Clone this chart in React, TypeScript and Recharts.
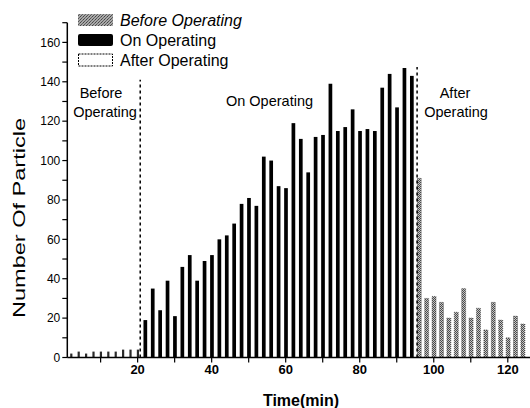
import React from 'react';
import { BarChart, Bar, XAxis, YAxis, ReferenceLine } from 'recharts';

// ---- data ----
const beforeTime = [2, 4, 6, 8, 10, 12, 14, 16, 18, 20];
const beforeCount = [2, 3, 2, 3, 3, 3, 3, 4, 4, 4];

const onTime = [22, 24, 26, 28, 30, 32, 34, 36, 38, 40, 42, 44, 46, 48, 50, 52, 54, 56, 58, 60, 62, 64, 66, 68, 70, 72, 74, 76, 78, 80, 82, 84, 86, 88, 90, 92, 94];
const onCount = [19, 35, 24, 39, 21, 46, 52, 39, 49, 52, 60, 62, 68, 78, 81, 77, 102, 100, 87, 86, 119, 111, 94, 112, 113, 139, 115, 117, 126, 115, 116, 115, 137, 144, 127, 147, 143];

const afterTime = [96, 98, 100, 102, 104, 106, 108, 110, 112, 114, 116, 118, 120, 122, 124];
const afterCount = [91, 30, 31, 28, 20, 23, 35, 20, 25, 14, 28, 19, 10, 21, 17];

const xTicks = [10, 20, 30, 40, 50, 60, 70, 80, 90, 100, 110, 120];
const yTicks = [0, 10, 20, 30, 40, 50, 60, 70, 80, 90, 100, 110, 120, 130, 140, 150, 160, 170];

const legendItems = ['Before Operating', 'On Operating', 'After Operating'];
const phaseStart = 20.7; // dashed separator before -> on
const phaseEnd = 95.5; // dashed separator on -> after

const rows = [
  ...beforeTime.map((t, i) => ({ t, before: beforeCount[i] })),
  ...onTime.map((t, i) => ({ t, on: onCount[i] })),
  ...afterTime.map((t, i) => ({ t, after: afterCount[i] })),
];

const FONT = '"Liberation Sans", Arial, Helvetica, sans-serif';

const makeShape = (w: number, fill: string, stroke?: string) => (props: any) => {
  const { x, y, width, height } = props;
  if (!height || height <= 0 || !isFinite(height)) return <g />;
  const cx = x + width / 2;
  return (
    <rect
      x={cx - w / 2}
      y={y}
      width={w}
      height={height}
      fill={fill}
      stroke={stroke || 'none'}
      strokeWidth={stroke ? 0.6 : 0}
      strokeDasharray={stroke ? '1 1' : undefined}
    />
  );
};

export default function App() {
  return (
    <div style={{ position: 'absolute', left: 0, top: 0, width: 530, height: 408, background: '#fff' }}>
      <BarChart
        width={530}
        height={408}
        data={rows}
        margin={{ top: 22.7, right: 0, left: 0, bottom: 20.5 }}
        barCategoryGap={0}
        barGap={0}
      >
        <defs>
          <pattern id="afterPat" width="2" height="2" patternUnits="userSpaceOnUse">
            <rect width="2" height="2" fill="#c4c4c4" />
            <rect x="0" y="0" width="1" height="1" fill="#4a4a4a" />
            <rect x="1" y="1" width="1" height="1" fill="#4a4a4a" />
          </pattern>
        </defs>
        <XAxis
          type="number"
          dataKey="t"
          domain={[1, 126]}
          ticks={xTicks}
          interval={0}
          height={30}
          tickSize={5}
          tickFormatter={(v: number) => (v % 20 === 0 ? String(v) : '')}
          tick={{ fontSize: 13, fontWeight: 'bold', fill: '#000', fontFamily: FONT }}
          axisLine={{ stroke: '#000', strokeWidth: 1.5 }}
          tickLine={{ stroke: '#000', strokeWidth: 1.2 }}
        />
        <YAxis
          type="number"
          domain={[0, 170]}
          ticks={yTicks}
          interval={0}
          width={67.3}
          tickSize={5}
          tickFormatter={(v: number) => (v % 20 === 0 && v <= 160 ? String(v) : '')}
          tick={{ fontSize: 12, fill: '#000', fontFamily: FONT }}
          axisLine={{ stroke: '#000', strokeWidth: 1.5 }}
          tickLine={{ stroke: '#000', strokeWidth: 1.2 }}
        />
        <Bar dataKey="before" name={legendItems[0]} stackId="a" barSize={4} isAnimationActive={false} shape={makeShape(2.2, '#2a2a2a')} />
        <Bar dataKey="on" name={legendItems[1]} stackId="a" barSize={4} isAnimationActive={false} shape={makeShape(3.7, '#000')} />
        <Bar dataKey="after" name={legendItems[2]} stackId="a" barSize={4} isAnimationActive={false} shape={makeShape(4, 'url(#afterPat)', '#333')} />
        <ReferenceLine
          segment={[{ x: phaseStart, y: 0 }, { x: phaseStart, y: 141 }]}
          stroke="#000"
          strokeWidth={1.5}
          strokeDasharray="3 3"
          ifOverflow="visible"
        />
        <ReferenceLine
          segment={[{ x: phaseEnd, y: 0 }, { x: phaseEnd, y: 147.5 }]}
          stroke="#000"
          strokeWidth={1.5}
          strokeDasharray="3 3"
          ifOverflow="visible"
        />
      </BarChart>
      <svg
        width={530}
        height={408}
        style={{ position: 'absolute', left: 0, top: 0, pointerEvents: 'none' }}
      >
        <defs>
          <pattern id="legStipple" width="3" height="3" patternUnits="userSpaceOnUse">
            <rect width="3" height="3" fill="#a8a8a8" />
            <rect x="0" y="0" width="1" height="1" fill="#555" />
            <rect x="2" y="1" width="1" height="1" fill="#444" />
            <rect x="1" y="2" width="1" height="1" fill="#666" />
          </pattern>
        </defs>
        <g fontFamily={FONT} fill="#000">
          <rect x={78} y={14} width={35} height={12} fill="url(#legStipple)" />
          <rect x={78} y={34} width={35} height={12} rx={2} fill="#000" />
          <rect x={78.5} y={54} width={34} height={12} fill="#fff" stroke="#000" strokeWidth={1} strokeDasharray="2 1" />
          <text x={120} y={26} fontSize={16} fontStyle="italic">{legendItems[0]}</text>
          <text x={120} y={46} fontSize={16}>{legendItems[1]}</text>
          <text x={120} y={66} fontSize={16}>{legendItems[2]}</text>

          <text x={101} y={98} fontSize={14.5} textAnchor="middle">Before</text>
          <text x={105} y={117} fontSize={14.5} textAnchor="middle">Operating</text>
          <text x={269.5} y={106} fontSize={14.5} textAnchor="middle">On Operating</text>
          <text x={455} y={98} fontSize={14.5} textAnchor="middle">After</text>
          <text x={456} y={117} fontSize={14.5} textAnchor="middle">Operating</text>
          <text x={301} y={406} fontSize={16} fontWeight="bold" textAnchor="middle">Time(min)</text>
          <text
            x={0}
            y={0}
            fontSize={16}
            textAnchor="middle"
            textLength={200}
            lengthAdjust="spacingAndGlyphs"
            transform="translate(25 218) rotate(-90)"
          >
            Number Of Particle
          </text>
        </g>
      </svg>
    </div>
  );
}
